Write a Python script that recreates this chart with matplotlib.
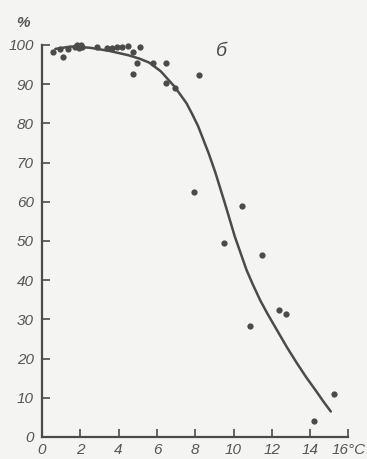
import numpy as np
import matplotlib
matplotlib.use("Agg")
import matplotlib.pyplot as plt

# measured points (temperature, %)
pts_x = [0.56, 0.94, 1.11, 1.37, 1.7, 1.85, 1.95, 2.05, 2.1, 2.85, 3.37, 3.64, 3.9, 4.16, 4.47,
         4.76, 5.11, 4.94, 4.73, 5.81, 6.5, 6.5, 6.94, 8.2, 7.95, 10.42, 9.49, 11.48,
         10.85, 12.38, 12.76, 15.25, 14.19]
pts_y = [98.3, 98.9, 96.9, 98.9, 99.5, 100.0, 99.2, 100.0, 99.6, 99.6, 99.2, 99.2, 99.4, 99.5, 99.7,
         98.3, 99.6, 95.3, 92.6, 95.3, 95.5, 90.2, 89.0, 92.3, 62.4, 58.9, 49.4, 46.4,
         28.4, 32.4, 31.3, 10.9, 4.1]

# fitted curve
curve_x = [0.7, 1.5, 2.5, 3.5, 4.5, 5.1, 5.6, 6.2, 6.9, 7.2, 7.55, 7.85, 8.15, 8.7, 9.05, 9.55,
           10.07, 10.68, 11.0, 11.4, 11.8, 12.3, 12.8, 13.3, 13.8, 14.3, 14.7, 15.08]
curve_y = [99.0, 99.6, 99.3, 98.5, 97.4, 96.5, 95.5, 93.3, 89.5, 87.5, 85.1, 82.3, 79.3, 72.4,
           67.5, 59.6, 51.1, 42.6, 39.0, 34.8, 31.2, 27.0, 22.8, 18.9, 15.2, 11.8, 9.0, 6.5]

xticks = [0, 2, 4, 6, 8, 10, 12, 14, 16]
xlabels = ["0", "2", "4", "6", "8", "10", "12", "14", "16°C"]
yticks = [0, 10, 20, 30, 40, 50, 60, 70, 80, 90, 100]

ink = "#4a4c4a"
bg = "#f4f4f2"
font = ["Liberation Sans", "DejaVu Sans"]

fig = plt.figure(figsize=(3.67, 4.59), dpi=100, facecolor=bg)
ax = fig.add_axes([0.1144, 0.048, 0.835, 0.854])
ax.set_facecolor(bg)

ax.plot(curve_x, curve_y, color=ink, lw=1.8, solid_capstyle="round", solid_joinstyle="round")
ax.plot(pts_x, pts_y, "o", color=ink, ms=4.5, mec="none", clip_on=False)

ax.set_xlim(0, 16)
ax.set_ylim(0, 100)
for s in ["top", "right"]:
    ax.spines[s].set_visible(False)
for s in ["left", "bottom"]:
    ax.spines[s].set_color(ink)
    ax.spines[s].set_linewidth(1.6)

ax.set_xticks(xticks)
ax.set_xticklabels(xlabels)
ax.set_yticks(yticks)
ax.tick_params(direction="in", length=6, width=1.2, color=ink, labelcolor="#555555",
               labelsize=11)
ax.tick_params(axis="y", pad=6)
ax.tick_params(axis="x", pad=4)
for lab in ax.get_xticklabels() + ax.get_yticklabels():
    lab.set_family(font)
    lab.set_style("italic")

ax.text(-1.0, 105.5, "%", ha="center", va="center", fontsize=11, color="#555555",
        family=font, style="italic", fontweight="bold", clip_on=False)
ax.text(9.35, 98.3, "б", ha="center", va="center", fontsize=14, color=ink,
        family=font, style="italic", clip_on=False)

fig.savefig("out.png", dpi=100, facecolor=bg)
